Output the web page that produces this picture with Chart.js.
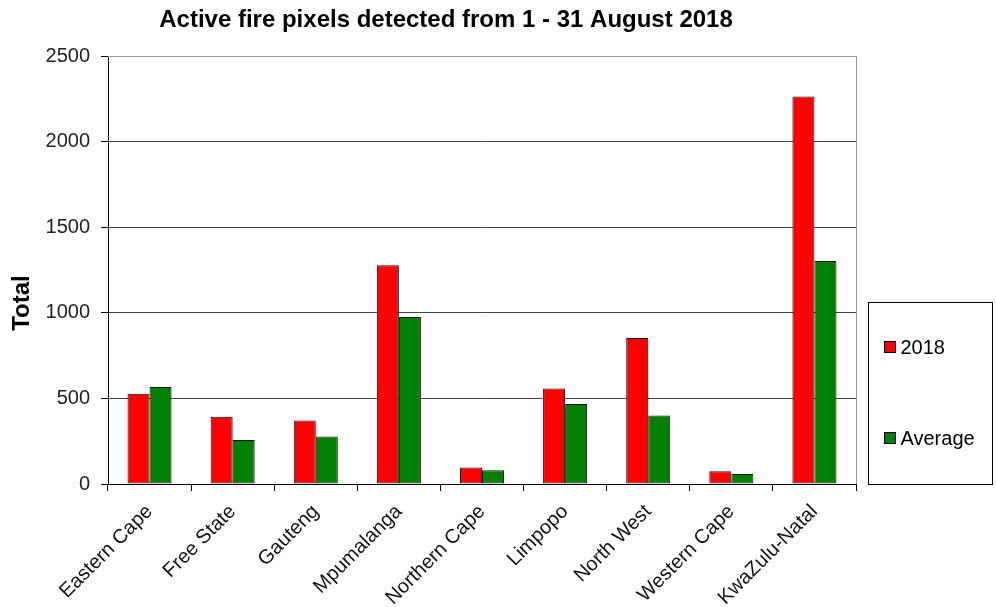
<!DOCTYPE html>
<html>
<head>
<meta charset="utf-8">
<script src="https://cdn.jsdelivr.net/npm/chart.js@4"></script>
<style>
  html, body { margin: 0; padding: 0; background: #fff; }
  #wrap { width: 996px; height: 607px; }
</style>
</head>
<body>
<div id="wrap"><canvas id="fireChart" width="996" height="607"></canvas></div>
<script>
// ========== DATOS ==========
const provinces = ["Eastern Cape", "Free State", "Gauteng", "Mpumalanga", "Northern Cape",
  "Limpopo", "North West", "Western Cape", "KwaZulu-Natal"];
const fires2018 = [527, 393, 371, 1278, 97, 558, 853, 74, 2264];
const firesAverage = [566, 257, 278, 976, 80, 468, 400, 58, 1303];
const yTicks = [0, 500, 1000, 1500, 2000, 2500];
const chartTitle = "Active fire pixels detected from 1 - 31 August 2018";
const yTitle = "Total";

const FONT = "'Liberation Sans', Arial, sans-serif";

// ========== TITULOS ==========
const titlePlugin = {
  id: "titleText",
  afterDraw(chart) {
    const c = chart.ctx;
    c.save();
    c.fillStyle = "#000";
    c.textAlign = "center";
    c.textBaseline = "middle";
    c.font = "bold 24px " + FONT;
    c.fillText(chartTitle, 446, 20);
    // titulo del eje Y
    c.translate(22, 303);
    c.rotate(-Math.PI / 2);
    c.font = "bold 24px " + FONT;
    c.fillText(yTitle, 0, 0);
    c.restore();
  }
};

// ========== BORDE DEL AREA ==========
const framePlugin = {
  id: "frame",
  beforeDatasetsDraw(chart) {
    const { left, right, top, bottom } = chart.chartArea;
    const c = chart.ctx;
    c.save();
    c.strokeStyle = "#9a9a9a";
    c.lineWidth = 1;
    c.beginPath();
    c.moveTo(left, top + 0.5);
    c.lineTo(right + 0.5, top + 0.5);
    c.lineTo(right + 0.5, bottom);
    c.stroke();
    c.restore();
  }
};

// ========== LEYENDA ==========
const legendBox = {
  id: "legendBox",
  afterDraw(chart) {
    const { right, bottom } = chart.chartArea;
    const c = chart.ctx;
    const x0 = right + 12.5, x1 = right + 136.5, y0 = 302.5, y1 = bottom + 0.5;
    c.save();
    c.strokeStyle = "#000";
    c.lineWidth = 1;
    c.strokeRect(x0, y0, x1 - x0, y1 - y0);
    const rows = [347, 438];
    c.font = "20px " + FONT;
    c.textBaseline = "middle";
    chart.data.datasets.forEach((ds, i) => {
      const y = rows[i];
      c.fillStyle = ds.backgroundColor;
      c.fillRect(x0 + 16, y - 5.5, 11, 11);
      c.strokeRect(x0 + 16, y - 5.5, 11, 11);
      c.fillStyle = "#000";
      c.fillText(ds.label, x0 + 32, y + 1);
    });
    c.restore();
  }
};

const ctx = document.getElementById("fireChart").getContext("2d");
new Chart(ctx, {
  type: "bar",
  data: {
    labels: provinces,
    datasets: [
      { label: "2018", data: fires2018, backgroundColor: "#ff0000" },
      { label: "Average", data: firesAverage, backgroundColor: "#008000" }
    ]
  },
  options: {
    responsive: false,
    animation: false,
    devicePixelRatio: 1,
    layout: { padding: { top: 56, right: 140, left: 0, bottom: 0 } },
    datasets: {
      bar: {
        borderColor: "#111",
        borderWidth: 1,
        borderSkipped: false,
        categoryPercentage: 0.53,
        barPercentage: 1
      }
    },
    plugins: {
      legend: { display: false },
      title: { display: false },
      tooltip: { enabled: false }
    },
    scales: {
      x: {
        afterFit: s => { s.height = 123; },
        grid: { drawOnChartArea: false, drawTicks: true, tickLength: 7, tickColor: "#000", offset: true },
        border: { color: "#000", width: 1 },
        ticks: {
          minRotation: 45, maxRotation: 45, padding: 9,
          color: "#111", font: { family: FONT, size: 20 }, autoSkip: false
        }
      },
      y: {
        min: 0, max: 2500,
        afterFit: s => { s.width = 108; },
        afterBuildTicks: s => { s.ticks = yTicks.map(v => ({ value: v })); },
        grid: { color: "#444", tickColor: "#000", tickLength: 7 },
        border: { color: "#000", width: 1 },
        ticks: {
          padding: 11, color: "#222", font: { family: FONT, size: 20 },
          callback: v => String(v)
        }
      }
    }
  },
  plugins: [framePlugin, legendBox, titlePlugin]
});
</script>
</body>
</html>
